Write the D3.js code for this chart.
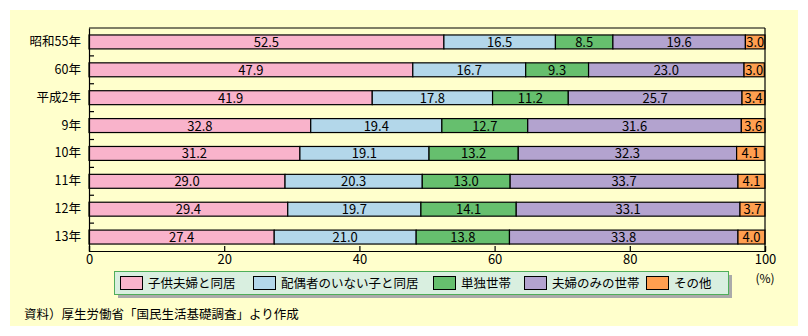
<!DOCTYPE html>
<html><head><meta charset="utf-8">
<script src="https://cdn.jsdelivr.net/npm/d3@7"></script>
<style>
html,body{margin:0;padding:0;background:#fff;}
text{font-family:"Noto Sans CJK JP","Noto Sans",sans-serif;}
</style></head>
<body>
<svg id="c" width="808" height="336"></svg>
<script>
const categories = ["昭和55年","60年","平成2年","9年","10年","11年","12年","13年"];
const seriesNames = ["子供夫婦と同居","配偶者のいない子と同居","単独世帯","夫婦のみの世帯","その他"];
const s1 = [52.5,47.9,41.9,32.8,31.2,29.0,29.4,27.4];
const s2 = [16.5,16.7,17.8,19.4,19.1,20.3,19.7,21.0];
const s3 = [8.5,9.3,11.2,12.7,13.2,13.0,14.1,13.8];
const s4 = [19.6,23.0,25.7,31.6,32.3,33.7,33.1,33.8];
const s5 = [3.0,3.0,3.4,3.6,4.1,4.1,3.7,4.0];
const xTicks = [0,20,40,60,80,100];
const sourceText = "資料）厚生労働省「国民生活基礎調査」より作成";
const unitText = "(%)";

const colors = ["#f9b3cb","#b3d7ea","#66bf6e","#b3a3cf","#ff9f50"];
const legendX = [120,253,433,524,646];

const svg = d3.select("#c");
svg.append("rect").attr("x",10).attr("y",10).attr("width",788).attr("height",316).attr("fill","#ffffcc");

const pL=89, pR=765, pT=28, pB=251;
const x = d3.scaleLinear().domain([0,100]).range([pL,pR]).clamp(true);
const y = d3.scaleBand().domain(categories).range([pT,pB]).paddingInner(0.5).paddingOuter(0.25);

const rows = categories.map((c,i)=>{const o={cat:c}; [s1,s2,s3,s4,s5].forEach((s,j)=>o[seriesNames[j]]=s[i]); return o;});
const stack = d3.stack().keys(seriesNames)(rows);

const g = svg.append("g");
stack.forEach((layer,j)=>{
  const lg = g.append("g");
  lg.selectAll("rect").data(layer).join("rect")
    .attr("x",d=>x(d[0])).attr("y",d=>y(d.data.cat))
    .attr("width",d=>x(d[1])-x(d[0])).attr("height",y.bandwidth())
    .attr("fill",colors[j]).attr("stroke","#000").attr("stroke-width",1.2);
  lg.selectAll("text").data(layer).join("text")
    .attr("x",d=>(x(d[0])+x(d[1]))/2).attr("y",d=>y(d.data.cat)+y.bandwidth()/2+5)
    .attr("text-anchor","middle").attr("font-size",13).attr("fill","#000")
    .text(d=>(d[1]-d[0]).toFixed(1));
});

// frame
const fr = svg.append("g").attr("stroke","#000").attr("stroke-width",1.2).attr("fill","none");
fr.append("line").attr("x1",pL).attr("x2",pR).attr("y1",pT).attr("y2",pT);
fr.append("line").attr("x1",pR).attr("x2",pR).attr("y1",pT).attr("y2",pB);

// x axis
const xa = svg.append("g").attr("transform",`translate(0,${pB})`)
  .call(d3.axisBottom(x).tickValues(xTicks).tickSize(-5).tickPadding(4).tickFormat(d3.format("d")));
xa.select(".domain").attr("stroke","#000").attr("stroke-width",1.2);
xa.selectAll(".tick line").attr("stroke","#000").attr("stroke-width",1.2);
xa.selectAll(".tick text").attr("font-size",13).attr("fill","#000")
  .style("font-family",'"Noto Sans CJK JP",sans-serif');
svg.append("text").attr("x",x(100)).attr("y",283).attr("text-anchor","middle").attr("font-size",12).text(unitText);

// y axis
const ya = svg.append("g").attr("transform",`translate(${pL},0)`)
  .call(d3.axisLeft(y).tickSize(0).tickPadding(8));
ya.select(".domain").attr("stroke","#000").attr("stroke-width",1.2);
ya.selectAll(".tick text").attr("font-size",12.5).attr("fill","#000")
  .style("font-family",'"Noto Sans CJK JP",sans-serif');
// band boundary ticks
svg.append("g").selectAll("line").data(categories.slice(1)).join("line")
  .attr("x1",pL).attr("x2",pL+5)
  .attr("y1",c=>y(c)-(y.step()-y.bandwidth())/2).attr("y2",c=>y(c)-(y.step()-y.bandwidth())/2)
  .attr("stroke","#000").attr("stroke-width",1.2);

// legend
svg.append("rect").attr("x",118).attr("y",275).attr("width",614).attr("height",23).attr("fill","#aaaaaa");
svg.append("rect").attr("x",114.5).attr("y",271.5).attr("width",614).attr("height",23)
  .attr("fill","#d9efe0").attr("stroke","#4fae5a").attr("stroke-width",1);
seriesNames.forEach((n,j)=>{
  svg.append("rect").attr("x",legendX[j]+0.5).attr("y",276.5).attr("width",22).attr("height",13)
    .attr("fill",colors[j]).attr("stroke","#000").attr("stroke-width",1);
  svg.append("text").attr("x",legendX[j]+28).attr("y",288).attr("font-size",12.5).text(n);
});

svg.append("text").attr("x",24).attr("y",319).attr("font-size",12.5).text(sourceText);
</script>
</body></html>
